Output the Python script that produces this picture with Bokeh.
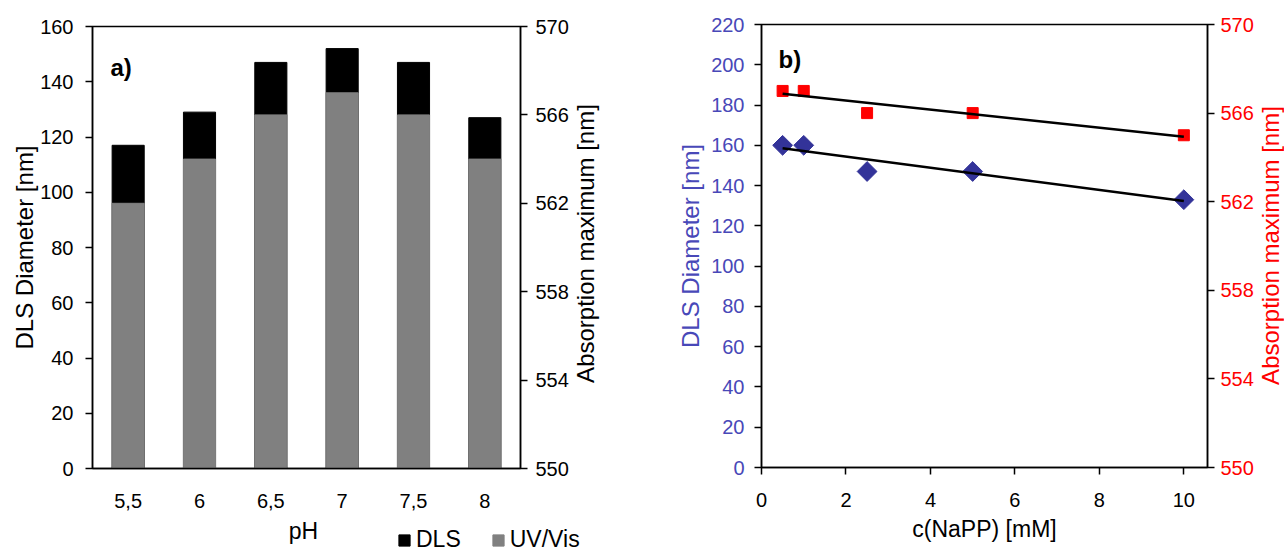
import numpy as np
from bokeh.plotting import figure
from bokeh.models import Range1d, FactorRange, LinearAxis, FixedTicker, Label, Legend, LegendItem
from bokeh.layouts import row, column
from bokeh.embed import file_html
from bokeh.resources import INLINE

# ---------------- data ----------------
ph_labels = ["5,5", "6", "6,5", "7", "7,5", "8"]
dls_ph = [117, 129, 147, 152, 147, 127]          # DLS diameter [nm]
uv_ph = [562, 564, 566, 567, 566, 564]           # absorption maximum [nm]

napp_conc = [0.5, 1, 2.5, 5, 10]                 # c(NaPP) [mM]
dls_napp = [160, 160, 147, 147, 133]             # DLS diameter [nm]
uv_napp = [567, 567, 566, 566, 565]              # absorption maximum [nm]

left_ticks_a = [0, 20, 40, 60, 80, 100, 120, 140, 160]
right_ticks = [550, 554, 558, 562, 566, 570]
left_ticks_b = [0, 20, 40, 60, 80, 100, 120, 140, 160, 180, 200, 220]
x_ticks_b = [0, 2, 4, 6, 8, 10]

FONT = "Liberation Sans"
BLUE_TXT = "#4848B8"
BLUE = "#333399"
RED = "#FF0000"
GRAY = "#808080"


def style_axis(ax, text_color="black", tick_out=7, label_standoff=10, title_standoff=4,
               title_size="23px"):
    ax.axis_line_color = "black"
    ax.axis_line_width = 1.5
    ax.major_tick_line_color = "black"
    ax.major_tick_line_width = 1.5
    ax.major_tick_out = tick_out
    ax.major_tick_in = 0
    ax.minor_tick_line_color = None
    ax.major_label_text_font = FONT
    ax.major_label_text_font_size = "20px"
    ax.major_label_text_color = text_color
    ax.major_label_standoff = label_standoff
    ax.axis_label_text_font = FONT
    ax.axis_label_text_font_size = title_size
    ax.axis_label_text_font_style = "normal"
    ax.axis_label_text_color = text_color
    ax.axis_label_standoff = title_standoff


def no_align(f):
    try:
        f.frame_align = False
    except Exception:
        pass


def blank(width, height):
    f = figure(frame_width=width, frame_height=height, x_range=Range1d(0, width),
               y_range=Range1d(0, height),
               output_backend="svg", toolbar_location=None, x_axis_type=None, y_axis_type=None,
               min_border=0, min_border_left=0, min_border_right=0,
               min_border_top=0, min_border_bottom=0)
    f.outline_line_color = None
    f.grid.visible = False
    no_align(f)
    return f


def vtitle(text, x, y, color):
    return Label(x=x, y=y, x_units="screen", y_units="screen", text=text, angle=np.pi / 2,
                 text_font=FONT, text_font_size="24px", text_color=color,
                 text_align="center", text_baseline="middle")


# ---------------- panel a ----------------
p1 = figure(width=572, height=518, x_range=FactorRange(*ph_labels), y_range=Range1d(0, 160),
            output_backend="svg", toolbar_location=None,
            min_border_left=92, min_border_right=52, min_border_top=26, min_border_bottom=50)
no_align(p1)
p1.extra_y_ranges = {"uv": Range1d(550, 570)}
p1.xgrid.grid_line_color = None
p1.ygrid.grid_line_color = None
p1.outline_line_color = "black"
p1.outline_line_width = 1.5

p1.vbar(x=ph_labels, top=dls_ph, width=0.45, color="black")
p1.vbar(x=ph_labels, bottom=550, top=uv_ph, width=0.45, color=GRAY, y_range_name="uv")

p1.yaxis.ticker = FixedTicker(ticks=left_ticks_a)
p1.yaxis.axis_label = "DLS Diameter [nm]"
style_axis(p1.yaxis[0], label_standoff=12, title_standoff=-1, title_size="24px")
style_axis(p1.xaxis[0], tick_out=0, label_standoff=25)

ax_r1 = LinearAxis(y_range_name="uv", ticker=FixedTicker(ticks=right_ticks))
style_axis(ax_r1, label_standoff=8)
p1.add_layout(ax_r1, "right")

p1.add_layout(Label(x=18, y=401, x_units="screen", y_units="screen", text="a)",
                    text_font=FONT, text_font_size="24px", text_font_style="bold",
                    text_color="black", text_baseline="middle", text_align="left"))

# right-axis title of panel a
t1 = blank(68, 518)
t1.add_layout(vtitle("Absorption maximum [nm]", 13, 275, "black"))

# strip under panel a: x-axis title and legend (legend swatches are zero-size proxies)
strip = blank(640, 35)
strip.add_layout(Label(x=303, y=23, x_units="screen", y_units="screen", text="pH",
                       text_font=FONT, text_font_size="23px", text_color="black",
                       text_align="center", text_baseline="middle"))
sw_dls = strip.vbar(x=[0], bottom=[0], top=[0], width=0, color="black")
sw_uv = strip.vbar(x=[0], bottom=[0], top=[0], width=0, color=GRAY)
legend = Legend(items=[LegendItem(label="DLS", renderers=[sw_dls]),
                       LegendItem(label="UV/Vis", renderers=[sw_uv])],
                orientation="horizontal", location=(397, 0),
                glyph_width=14, glyph_height=14, label_standoff=5, spacing=30,
                padding=0, margin=0, border_line_color=None, background_fill_alpha=0,
                label_text_font=FONT, label_text_font_size="23px", label_text_color="black")
strip.add_layout(legend)

# ---------------- panel b ----------------
p2 = figure(width=616, height=553, x_range=Range1d(0, 10.56), y_range=Range1d(0, 220),
            output_backend="svg", toolbar_location=None,
            min_border_left=121, min_border_right=49, min_border_top=24, min_border_bottom=86)
p2.extra_y_ranges = {"uv": Range1d(550, 570)}
p2.xgrid.grid_line_color = None
p2.ygrid.grid_line_color = None
p2.outline_line_color = "black"
p2.outline_line_width = 1.5

p2.scatter(napp_conc, dls_napp, marker="square", angle=np.pi / 4, size=14, color=BLUE)
p2.scatter(napp_conc, uv_napp, marker="square", size=11, color=RED, y_range_name="uv")

xs_fit = [min(napp_conc), max(napp_conc)]
c_dls = np.polyfit(napp_conc, dls_napp, 1)
c_uv = np.polyfit(napp_conc, uv_napp, 1)
p2.line(xs_fit, list(np.polyval(c_dls, xs_fit)), line_color="black", line_width=2.5)
p2.line(xs_fit, list(np.polyval(c_uv, xs_fit)), line_color="black", line_width=2.5, y_range_name="uv")

p2.yaxis.ticker = FixedTicker(ticks=left_ticks_b)
p2.yaxis.axis_label = "DLS Diameter [nm]"
style_axis(p2.yaxis[0], text_color=BLUE_TXT, label_standoff=10, title_standoff=4,
           title_size="24px")
p2.xaxis.ticker = FixedTicker(ticks=x_ticks_b)
p2.xaxis.axis_label = "c(NaPP) [mM]"
style_axis(p2.xaxis[0], tick_out=7, label_standoff=18, title_standoff=6)

ax_r2 = LinearAxis(y_range_name="uv", ticker=FixedTicker(ticks=right_ticks))
style_axis(ax_r2, text_color=RED, label_standoff=6)
p2.add_layout(ax_r2, "right")

p2.add_layout(Label(x=17, y=408, x_units="screen", y_units="screen", text="b)",
                    text_font=FONT, text_font_size="24px", text_font_style="bold",
                    text_color="black", text_baseline="middle", text_align="left"))

# right-axis title of panel b
t2 = blank(28, 553)
t2.add_layout(vtitle("Absorption maximum [nm]", 14, 308, RED))

left_block = column(row(p1, t1), strip)
layout = row(left_block, p2, t2)
open("out.html", "w").write(file_html(layout, INLINE))
